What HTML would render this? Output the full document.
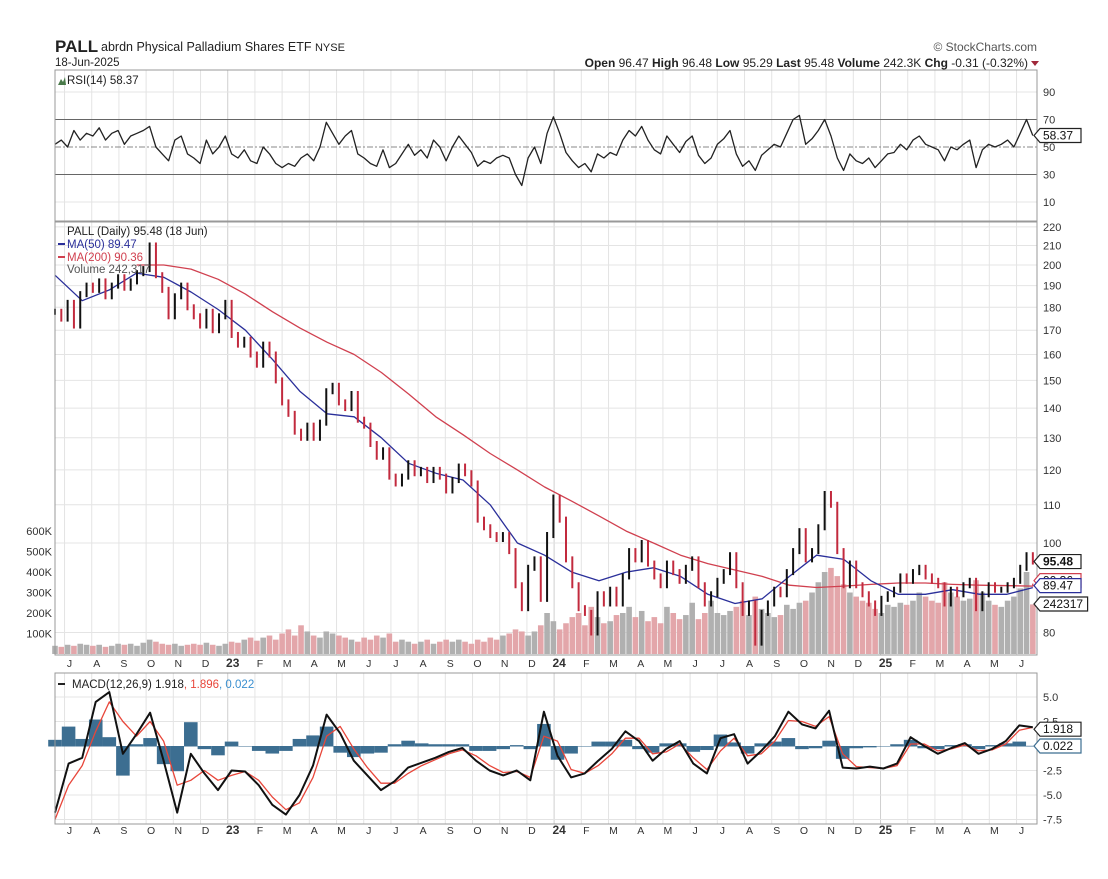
<!DOCTYPE html>
<html><head><meta charset="utf-8"><style>
body{margin:0;background:#fff;font-family:"Liberation Sans",sans-serif;}
svg text{font-family:"Liberation Sans",sans-serif;}
</style></head><body>
<svg id="c" width="1108" height="874" xmlns="http://www.w3.org/2000/svg">
<rect width="1108" height="874" fill="#fff"/>
<text x="55" y="52" font-size="17" font-weight="bold" fill="#222">PALL</text>
<text x="101" y="51" font-size="12.5" fill="#222">abrdn Physical Palladium Shares ETF <tspan font-size="11">NYSE</tspan></text>
<text x="55" y="66" font-size="11.5" fill="#222">18-Jun-2025</text>
<text x="1037" y="51" font-size="12" fill="#555" text-anchor="end">© StockCharts.com</text>
<text x="1028" y="67" font-size="12" fill="#222" text-anchor="end"><tspan font-weight="bold">Open</tspan> 96.47  <tspan font-weight="bold">High</tspan> 96.48  <tspan font-weight="bold">Low</tspan> 95.29  <tspan font-weight="bold">Last</tspan> 95.48  <tspan font-weight="bold">Volume</tspan> 242.3K  <tspan font-weight="bold">Chg</tspan> -0.31 (-0.32%)</text>
<polygon points="1031,61 1039,61 1035,66" fill="#a0283a"/>
<g id="grid"></g><g id="marks"></g><g id="frames"></g><g id="labels"></g>
</svg>
<script>
// ---- data ----
const monthLabels=["J","A","S","O","N","D","23","F","M","A","M","J","J","A","S","O","N","D","24","F","M","A","M","J","J","A","S","O","N","D","25","F","M","A","M","J"];
const closes=[178,175, 182,172,186,190, 188,192,185,190,194, 189,192,196,198, 210,195,188,176, 185,190,180,176,172, 178,170,176,182,
168,164,166,160,156, 164,160,150,142, 138,132,130,134, 130,135,146,148, 142,140,145,136,134, 128,124,126,118, 116,118,122,119, 120,117,120,118,114, 117,121,119,116, 106,104,102,101,102, 98,90,85,94, 96,87,102,112,106,
96,90,85,84, 80,88,86,89, 86,92,98,96, 100,95,92,90,95, 93,91,94,96, 90,86,88,91, 93,97,90,84,86, 78,84,86,89, 88,93,98,103, 96,98,104,113,110, 98,90,95,90, 88,86,84,87,88,
89,92,91,93, 94,92,91,90, 86,89,88,90,91, 85,88,90,89, 89,90,91,94, 97,95.48];
const volumesK=[40,35, 45,40,50,45, 40,45,35,40,50, 45,50,40,55, 70,60,50,45, 50,40,45,50,45, 55,45,40,50,
60,55,70,80,65, 80,90,70,100, 120,90,140,110, 90,80,110,100, 90,80,70,60,80, 70,90,80,100, 60,70,60,50, 60,70,50,60,70, 60,70,60,50, 70,60,80,70,90, 100,120,110,90, 110,140,200,160,120,
150,180,200,140, 230,180,150,160, 190,200,230,180, 210,160,180,150,230, 200,170,190,250, 170,200,260,200, 190,210,230,260,190, 280,220,200,180, 190,240,220,250, 260,300,350,400,420, 380,340,300,280, 260,250,220,200,240,
230,250,240,260, 300,280,260,250, 350,300,280,260,270, 360,300,260,240, 230,260,280,320, 400,242];
const rsiValues=[52,55, 50,62,55,60, 58,64,55,60,62, 52,58,60,62, 65,50,45,40, 55,58,45,42,38, 55,45,50,58,
45,42,48,40,38, 50,45,38,35, 38,36,42,45, 40,50,68,60, 52,58,62,45,42, 38,36,48,35, 38,45,52,44, 48,42,55,50,40, 50,58,52,46, 36,40,38,42,44, 42,30,22,42, 50,38,60,72,60,
46,40,35,38, 32,45,42,46, 44,55,62,58, 65,55,48,45,58, 52,46,54,58, 44,38,42,52, 56,62,45,36,40, 33,44,48,52, 50,60,70,73, 52,56,62,70,58, 42,33,45,40, 38,42,35,40,45,
46,52,48,55, 58,52,50,48, 40,50,48,52,55, 35,48,52,50, 52,55,50,60, 70,58.37];
const ma50=[195,183,188,196,194,187,179,170,158,146,138,137,130,122,119,117,110,100,97,93,91,93,94,92,88,86,87,92,97,96,91,88,88,89,88,88,89.47];
const ma200Start=3;
const ma200=[200,200,198,193,186,178,171,165,160,153,145,137,131,125,120,115,111,107,103,100,97,95,93.5,92,90,89.5,89.8,90.2,90.5,90.5,90.2,90,89.8,90.36];
const macdLine=[-6.8,-1.8,-1.2,4.5,5.5,-0.8,1.2,3.4,-1.5,-6.8,-0.8,-2.8,-4.5,-2.5,-2.6,-4,-6,-7,-5,-2,3.2,1.3,-1.5,-3,-4.5,-3.6,-2.2,-1.7,-1.2,-0.6,-0.2,-1.5,-2.5,-3,-2.5,-3.5,3.5,-1,-3.2,-2.8,-1.5,-0.3,1.5,0.5,-1.5,-0.3,0.5,-1.8,-2.8,0.8,1.2,-1.8,-0.5,1,3.5,2.2,1.8,3.6,-2.2,-2.3,-2.1,-2.3,-1.8,0.9,0,-0.8,-0.2,0.3,-0.8,-0.3,0.5,2.1,1.918];
const signalLine=[-7.5,-4,-2,1.5,4.5,2.5,1,2.5,0.5,-4,-3.5,-2.5,-3.5,-3,-2.6,-3.5,-5.2,-6.5,-5.8,-3.2,1,2,-0.3,-2.2,-3.8,-3.8,-2.8,-2,-1.4,-0.8,-0.4,-1,-2,-2.7,-2.6,-3.2,1,0.5,-2.4,-2.8,-2,-0.8,0.8,0.8,-0.8,-0.6,0.2,-1.2,-2.4,-0.5,0.8,-1,-0.8,0.5,2.6,2.5,2,3,-0.8,-2.1,-2.2,-2.3,-2,0.2,0.2,-0.5,-0.3,0.1,-0.5,-0.4,0.2,1.6,1.896];
const histValues=[0.7,2.2,0.8,3,1,-3.3,0.2,0.9,-2,-2.8,2.7,-0.3,-1,0.5,0,-0.5,-0.8,-0.5,0.8,1.2,2.2,-0.7,-1.2,-0.8,-0.7,0.2,0.6,0.3,0.2,0.2,0.2,-0.5,-0.5,-0.3,0.1,-0.3,2.5,-1.5,-0.8,0,0.5,0.5,0.7,-0.3,-0.7,0.3,0.3,-0.6,-0.4,1.3,0.4,-0.8,0.3,0.5,0.9,-0.3,-0.2,0.6,-1.4,-0.2,-0.1,0,0.2,0.7,-0.2,-0.3,0.1,0.2,-0.3,0.1,0.3,0.5,0.022];
const rsiTicks=[90,70,50,30,10];
const priceTicks=[220,210,200,190,180,170,160,150,140,130,120,110,100,80];
const volTicks=[600,500,400,300,200,100];
const macdTicks=["5.0","2.5","-2.5","-5.0","-7.5"];

// ---- layout / scales ----
const NS="http://www.w3.org/2000/svg";
const L=55,R=1037,PX=27.2,TEND=35.95;
const P={rsi:[70,221],price:[222,655],macd:[673,824]};
const xT=t=>L+t*PX;
const xIdx=(i,n)=>xT(i*TEND/(n-1));
const yRsi=v=>147-(v-50)*1.375;
const yPrice=p=>543-401*Math.log(p/100);
const yVol=k=>654-k*0.205;
const yMacd=v=>746-v*9.8;
function mk(tag,attrs,parent){const e=document.createElementNS(NS,tag);for(const k in attrs)e.setAttribute(k,attrs[k]);document.getElementById(parent).appendChild(e);return e;}
function txt(s,attrs,parent){const e=mk('text',attrs,parent);e.textContent=s;return e;}

// grid
for(let k=0;k<monthLabels.length;k++){
 const x=xT(k+0.35);
 for(const p in P){const l=mk('line',{x1:x,x2:x,y1:P[p][0],y2:P[p][1],stroke:monthLabels[k].length>1?'#cfcfcf':'#e4e4e4','stroke-width':1},'grid');
 
 }
 for(const y of [663,830]){const t=txt(monthLabels[k],{x:x+5,y:y+4,'font-size':monthLabels[k].length>1?12:10.5,'font-weight':monthLabels[k].length>1?'bold':'normal','text-anchor':'middle',fill:'#333'},'labels');
 
 }
}
rsiTicks.forEach(v=>{const y=yRsi(v);
 const g=mk('line',{x1:L,x2:R,y1:y,y2:y,stroke:(v==70||v==30)?'#666':(v==50?'#888':'#e4e4e4'),'stroke-width':1,'stroke-dasharray':v==50?'6,2,2,2':'none'},'grid');
 
 
 const t=txt(String(v),{x:1043,y:y+4,'font-size':11,fill:'#333'},'labels');
 
 });
priceTicks.forEach(v=>{const y=yPrice(v);
 const g=mk('line',{x1:L,x2:R,y1:y,y2:y,stroke:'#e4e4e4'},'grid');
 
 
 const t=txt(String(v),{x:1043,y:y+4,'font-size':11,fill:'#333'},'labels');
 
 });
volTicks.forEach(v=>{const t=txt(v+'K',{x:52,y:yVol(v)+4,'font-size':11,fill:'#333','text-anchor':'end'},'labels');
 
 });
macdTicks.forEach(s=>{const y=yMacd(parseFloat(s));
 const g=mk('line',{x1:L,x2:R,y1:y,y2:y,stroke:'#e4e4e4'},'grid');
 
 
 const t=txt(s,{x:1043,y:y+4,'font-size':11,fill:'#333'},'labels');
 
 });

// volume
volumesK.forEach((v,i)=>{const x=xIdx(i,volumesK.length);const down=i>0&&closes[i]<closes[i-1];
 const r=mk('rect',{x:x-2.8,y:yVol(v),width:5.6,height:654-yVol(v),fill:down?'#e3a6aa':'#b0b0b0'},'marks');
 
 });
// MAs
function poly(vals,xf,yf,color,w,name){const pts=vals.map((v,i)=>xf(i).toFixed(1)+','+yf(v).toFixed(1)).join(' ');
 const p=mk('polyline',{points:pts,fill:'none',stroke:color,'stroke-width':w,'stroke-linejoin':'round'},'marks');
 
 return p;}
poly(ma200,i=>xT(i+ma200Start<35?i+ma200Start:TEND),yPrice,'#d0404f',1.3,'ma200-line');
poly(ma50,i=>xT(i<36?i:TEND),yPrice,'#2a2f9a',1.3,'ma50-line');
// price bars
closes.forEach((c,i)=>{const x=xIdx(i,closes.length);const prev=i>0?closes[i-1]:c;const down=c<prev;
 const y1=yPrice(Math.max(c,prev))-3,y2=yPrice(Math.min(c,prev))+3;
 const l=mk('line',{x1:x,x2:x,y1:y1,y2:y2,stroke:down?'#c22a3e':'#111','stroke-width':2},'marks');
 
 });
// RSI
poly(rsiValues,i=>xIdx(i,rsiValues.length),yRsi,'#222',1.3,'rsi-line');
// MACD
const hw=TEND*PX/(histValues.length-1);
histValues.forEach((h,i)=>{const x=xIdx(i,histValues.length);const y0=yMacd(0),y=yMacd(h*0.9);
 const r=mk('rect',{x:x-hw/2,y:Math.min(y0,y),width:hw,height:Math.abs(y-y0)+0.5,fill:'#3c6e91'},'marks');
 
 });
poly(signalLine,i=>xIdx(i,signalLine.length),yMacd,'#e8463a',1.3,'macd-signal-line');
poly(macdLine,i=>xIdx(i,macdLine.length),yMacd,'#111',2,'macd-line');

// frames
for(const p in P){const r=mk('rect',{x:L,y:P[p][0],width:R-L,height:P[p][1]-P[p][0],fill:'none',stroke:'#999'},'frames');
 
 }
// legends
const leg=[["RSI(14) 58.37",67,84,'#222',"rsi-legend"],["PALL (Daily) 95.48 (18 Jun)",67,235,'#222',"price-legend"],["MA(50) 89.47",67,248,'#2a2f9a',"ma50-legend"],["MA(200) 90.36",67,261,'#d0404f',"ma200-legend"],["Volume 242,317",67,273,'#555',"volume-legend"]];
leg.forEach(a=>{const t=txt(a[0],{x:a[1],y:a[2],'font-size':11.5,fill:a[3]},'labels');
 
 });
const ic=mk('polygon',{points:'58,85 61,79 63,82 65,77 66,85',fill:'#4a7a4a'},'labels');


const ml=txt('',{x:72,y:688,'font-size':11.5,fill:'#222'},'labels');
ml.innerHTML='MACD(12,26,9) 1.918<tspan fill="#e8463a">, 1.896</tspan><tspan fill="#3a8fd0">, 0.022</tspan>';


[[58,684,'#222'],[58,244,'#2a2f9a'],[58,257,'#d0404f']].forEach(a=>{const l=mk('line',{x1:a[0],x2:a[0]+7,y1:a[1],y2:a[1],stroke:a[2],'stroke-width':2},'labels');
 
 });
// value tags
function tag(val,y,color,bold,name){const w=val.length*6.6+8;
 const p=mk('polygon',{points:`${1034},${y} ${1040},${y-7} ${1040+w},${y-7} ${1040+w},${y+7} ${1040},${y+7}`,fill:'#fff',stroke:color,'stroke-width':1.2},'labels');
 
 
 const t=txt(val,{x:1043,y:y+4,'font-size':12,'font-weight':bold?'bold':'normal',fill:'#111'},'labels');
 
 }
tag(String(rsiValues[rsiValues.length-1]),yRsi(rsiValues[rsiValues.length-1]),'#222',false,'rsi-value-tag');
tag(closes[closes.length-1].toFixed(2),yPrice(closes[closes.length-1]),'#222',true,'price-value-tag');
tag(ma200[ma200.length-1].toFixed(2),yPrice(ma200[ma200.length-1])-3,'#d0404f',false,'ma200-value-tag');
tag(ma50[ma50.length-1].toFixed(2),yPrice(ma50[ma50.length-1])-2,'#2a2f9a',false,'ma50-value-tag');
tag('242317',604,'#222',false,'volume-value-tag');
tag(macdLine[macdLine.length-1].toFixed(3),yMacd(macdLine[macdLine.length-1])+2,'#222',false,'macd-value-tag');
tag(histValues[histValues.length-1].toFixed(3),746,'#3c6e91',false,'macd-hist-value-tag');
</script>
</body></html>
